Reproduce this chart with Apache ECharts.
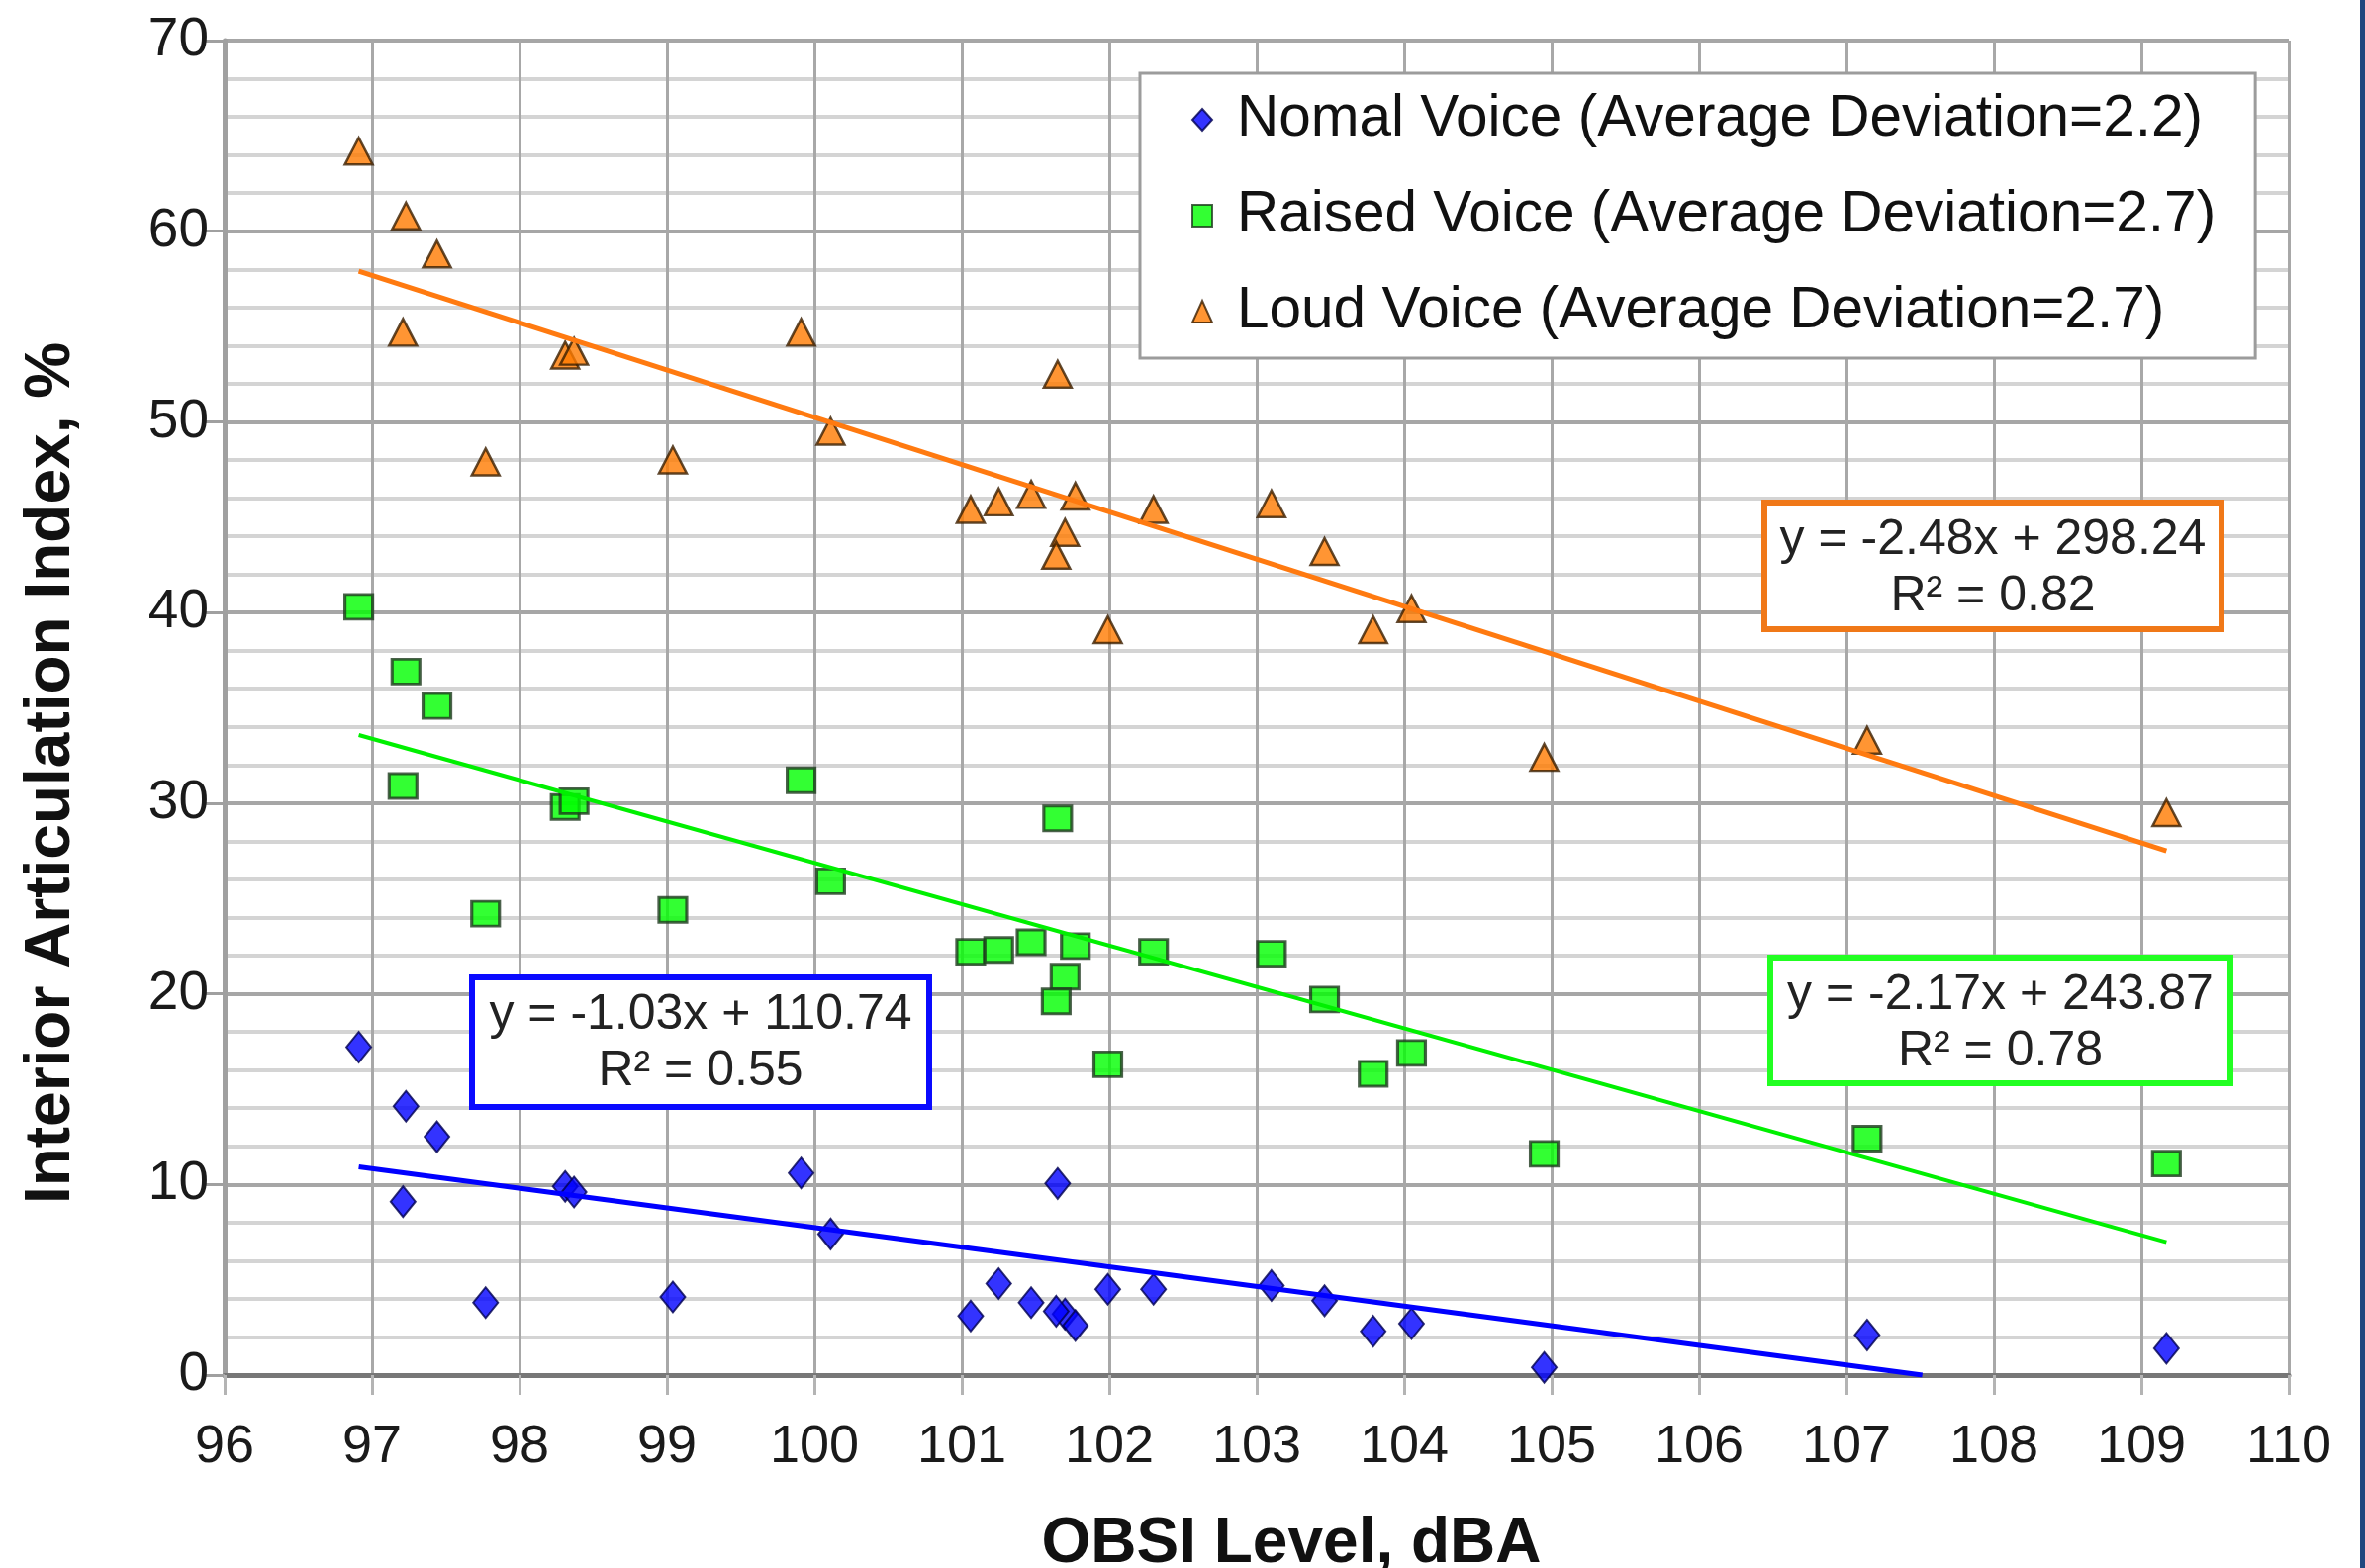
<!DOCTYPE html>
<html>
<head>
<meta charset="utf-8">
<title>Interior Articulation Index vs OBSI Level</title>
<script src="https://cdn.jsdelivr.net/npm/echarts@6/dist/echarts.min.js"></script>
<style>
  html, body { margin: 0; padding: 0; background: #ffffff; }
  #chart { width: 2390px; height: 1585px; }
</style>
</head>
<body>
<div id="chart"></div>
<script>
// OBSI level (dBA) of each measurement, shared by the three voice efforts
const obsiLevel = [96.91, 97.23, 97.44, 97.21, 97.77, 98.31, 98.37, 99.04, 99.91, 100.11,
  101.06, 101.25, 101.47, 101.65, 101.70, 101.64, 101.77, 101.99, 102.30, 103.10,
  103.46, 103.79, 104.05, 104.95, 107.14, 109.17];

// Interior articulation index (%) for each voice effort
const normalVoice = [17.2, 14.1, 12.5, 9.1, 3.8, 9.9, 9.6, 4.1, 10.6, 7.4,
  3.1, 4.8, 3.8, 10.05, 3.2, 3.35, 2.6, 4.5, 4.5, 4.7,
  3.9, 2.3, 2.7, 0.4, 2.1, 1.4];
const raisedVoice = [40.3, 36.9, 35.1, 30.9, 24.2, 29.8, 30.1, 24.4, 31.2, 25.9,
  22.2, 22.3, 22.7, 29.2, 20.9, 19.6, 22.5, 16.3, 22.2, 22.1,
  19.7, 15.8, 16.9, 11.6, 12.4, 11.1];
const loudVoice = [64.2, 60.8, 58.8, 54.7, 47.9, 53.5, 53.7, 48.0, 54.7, 49.5,
  45.4, 45.8, 46.2, 52.5, 44.2, 43.0, 46.1, 39.1, 45.4, 45.7,
  43.2, 39.1, 40.2, 32.4, 33.3, 29.5];

const seriesNames = [
  'Nomal Voice (Average Deviation=2.2)',
  'Raised Voice (Average Deviation=2.7)',
  'Loud Voice (Average Deviation=2.7)'
];

// Linear fits as printed on the chart
const normalFit = { slope: -1.03, intercept: 110.74, r2: '0.55' };
const raisedFit = { slope: -2.17, intercept: 243.87, r2: '0.78' };
const loudFit   = { slope: -2.48, intercept: 298.24, r2: '0.82' };

const xTicks = { min: 96, max: 110, step: 1 };
const yTicks = { min: 0, max: 70, step: 10 };

const FONT = '"Liberation Sans", Arial, Helvetica, sans-serif';

function pairs(xs, ys) { return xs.map((x, i) => [x, ys[i]]); }

// Trend line over the data range, cut where it leaves the y axis range
function fitLine(fit) {
  const x0 = Math.min.apply(null, obsiLevel);
  let x1 = Math.max.apply(null, obsiLevel);
  const atZero = (yTicks.min - fit.intercept) / fit.slope;
  if (fit.intercept + fit.slope * x1 < yTicks.min) x1 = atZero;
  return [[x0, fit.intercept + fit.slope * x0], [x1, fit.intercept + fit.slope * x1]];
}

function eqText(fit) {
  return 'y = ' + fit.slope.toFixed(2) + 'x + ' + fit.intercept.toFixed(2);
}

// Framed equation label of a trend line
function equationBox(fit, color, x, y, w, h) {
  return {
    type: 'group', x: x, y: y, z: 50,
    children: [
      { type: 'rect', z: 50, shape: { x: 0, y: 0, width: w, height: h },
        style: { fill: '#ffffff', stroke: color, lineWidth: 6 } },
      { type: 'text', z: 51, x: w / 2, y: 38,
        style: { text: eqText(fit), font: '50px ' + FONT, fill: '#222222',
                 textAlign: 'center', textVerticalAlign: 'middle' } },
      { type: 'text', z: 51, x: w / 2, y: 95,
        style: { text: 'R\u00B2 = ' + fit.r2, font: '50px ' + FONT, fill: '#222222',
                 textAlign: 'center', textVerticalAlign: 'middle' } }
    ]
  };
}

const chart = echarts.init(document.getElementById('chart'), null, { renderer: 'canvas' });

const option = {
  backgroundColor: '#ffffff',
  animation: false,
  grid: { left: 227, right: 77, top: 41, bottom: 195, containLabel: false, outerBoundsMode: 'none' },
  xAxis: {
    type: 'value', min: xTicks.min, max: xTicks.max, interval: xTicks.step,
    name: 'OBSI Level, dBA', nameLocation: 'middle', nameGap: 139,
    nameTextStyle: { fontFamily: FONT, fontSize: 64, fontWeight: 'bold', color: '#111',
                     padding: [0, 0, 0, 70] },
    axisLine: { show: true, onZero: false, lineStyle: { color: '#777777', width: 5 } },
    axisTick: { show: true, inside: false, length: 20, lineStyle: { color: '#b4b4b4', width: 3 } },
    axisLabel: { fontFamily: FONT, fontSize: 54, color: '#1a1a1a', margin: 46 },
    splitLine: { show: true, lineStyle: { color: '#a8a8a8', width: 3 } }
  },
  yAxis: {
    type: 'value', min: yTicks.min, max: yTicks.max, interval: yTicks.step,
    name: 'Interior Articulation Index, %', nameLocation: 'middle', nameGap: 143,
    nameTextStyle: { fontFamily: FONT, fontSize: 64, fontWeight: 'bold', color: '#111',
                     padding: [0, 132, 0, 0] },
    axisLine: { show: true, onZero: false, lineStyle: { color: '#a0a0a0', width: 5 } },
    axisTick: { show: true, inside: false, length: 20, lineStyle: { color: '#a0a0a0', width: 3 } },
    axisLabel: { fontFamily: FONT, fontSize: 55, color: '#1a1a1a', margin: 16 },
    splitLine: { show: true, lineStyle: { color: '#a6a6a6', width: 4 } },
    minorTick: { show: false, splitNumber: 5 },
    minorSplitLine: { show: true, lineStyle: { color: '#d4d4d4', width: 4 } }
  },
  legend: {
    show: true, orient: 'vertical', left: 1152, top: 74,
    data: seriesNames,
    backgroundColor: '#ffffff', borderColor: '#9c9c9c', borderWidth: 3, borderRadius: 0,
    padding: [17, 40, 17, 52],
    itemGap: 37, itemWidth: 20, itemHeight: 22,
    textStyle: { fontFamily: FONT, fontSize: 58.5, color: '#111', lineHeight: 60, padding: [0, 0, 0, 20] },
    selectedMode: false
  },
  series: [
    {
      name: seriesNames[0], type: 'scatter', data: pairs(obsiLevel, normalVoice),
      symbol: 'diamond', symbolSize: [25, 31], z: 3,
      itemStyle: { color: '#0000ff', borderColor: '#000050', borderWidth: 2 }
    },
    {
      name: seriesNames[1], type: 'scatter', data: pairs(obsiLevel, raisedVoice),
      symbol: 'rect', symbolSize: [28, 25], z: 3,
      itemStyle: { color: '#00ff00', borderColor: '#1e3a1e', borderWidth: 3 }
    },
    {
      name: seriesNames[2], type: 'scatter', data: pairs(obsiLevel, loudVoice),
      symbol: 'triangle', symbolSize: [28, 27], z: 3,
      itemStyle: { color: '#ff7a00', borderColor: '#3a1e00', borderWidth: 2.5 }
    },
    {
      name: 'Normal fit', type: 'line', data: fitLine(normalFit), showSymbol: false, silent: true,
      z: 4, lineStyle: { color: '#0000ff', width: 5 }
    },
    {
      name: 'Raised fit', type: 'line', data: fitLine(raisedFit), showSymbol: false, silent: true,
      z: 4, lineStyle: { color: '#00f000', width: 4 }
    },
    {
      name: 'Loud fit', type: 'line', data: fitLine(loudFit), showSymbol: false, silent: true,
      z: 4, lineStyle: { color: '#ff7a10', width: 5 }
    }
  ],
  graphic: [
    equationBox(loudFit, '#f07818', 1783, 508, 462, 128),
    equationBox(raisedFit, '#22ff22', 1789, 968, 465, 127),
    equationBox(normalFit, '#0a0aff', 477, 988, 462, 131),
    { type: 'rect', left: 2385, top: 0, z: 60,
      shape: { width: 5, height: 1585 }, style: { fill: '#21477f' } }
  ]
};

chart.setOption(option);
</script>
</body>
</html>
